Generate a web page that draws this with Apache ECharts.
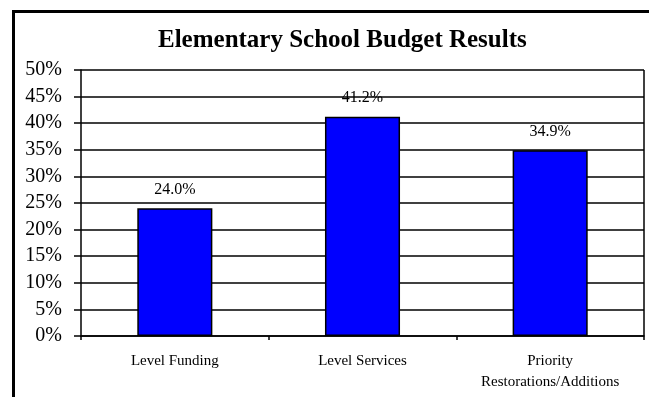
<!DOCTYPE html>
<html>
<head>
<meta charset="utf-8">
<script src="https://cdn.jsdelivr.net/npm/echarts@6/dist/echarts.min.js"></script>
<style>
  html, body { margin: 0; padding: 0; background: #fff; }
  #chart { width: 649px; height: 397px; }
</style>
</head>
<body>
<div id="chart"></div>
<script>
// Budget option results, share of votes (%)
const categories = ['Level Funding', 'Level Services', 'Priority\nRestorations/Additions'];
const shares = [24.0, 41.2, 34.9];
const yTicks = { min: 0, max: 50, step: 5 };

const serif = '"Liberation Serif", "Times New Roman", serif';
const chart = echarts.init(document.getElementById('chart'));

chart.setOption({
  animation: false,
  backgroundColor: '#fff',
  graphic: [{
    type: 'rect',
    shape: { x: 13.5, y: 11.5, width: 700, height: 500 },
    style: { fill: 'none', stroke: '#000', lineWidth: 3 },
    silent: true
  }],
  title: {
    text: 'Elementary School Budget Results',
    left: 153,
    top: 23,
    textStyle: {
      fontFamily: serif,
      fontWeight: 'bold',
      fontSize: 25,
      color: '#000'
    }
  },
  grid: { left: 81, right: 5, top: 70, bottom: 61 },
  xAxis: {
    type: 'category',
    data: categories,
    axisLine: { lineStyle: { color: '#000', width: 1.5 } },
    axisTick: { show: true, alignWithLabel: false, length: 4, lineStyle: { color: '#000', width: 1.5 } },
    axisLabel: {
      fontFamily: serif,
      fontSize: 15,
      color: '#000',
      margin: 15,
      lineHeight: 21,
      interval: 0
    }
  },
  yAxis: {
    type: 'value',
    min: yTicks.min,
    max: yTicks.max,
    interval: yTicks.step,
    axisLine: { show: true, lineStyle: { color: '#000', width: 1.5 } },
    axisTick: { show: true, length: 7, lineStyle: { color: '#000', width: 1.5 } },
    splitLine: { show: true, lineStyle: { color: '#000', width: 1.5 } },
    axisLabel: {
      fontFamily: serif,
      fontSize: 20,
      color: '#000',
      margin: 19,
      formatter: v => v + '%'
    }
  },
  series: [{
    type: 'bar',
    data: shares,
    barWidth: '40%',
    itemStyle: { color: '#0000FF', borderColor: '#000', borderWidth: 1.5 },
    label: {
      show: true,
      position: 'top',
      distance: 11,
      fontFamily: serif,
      fontSize: 16,
      color: '#000',
      formatter: p => p.value.toFixed(1) + '%'
    }
  }, {
    // right edge of the plot frame
    type: 'line',
    data: [],
    markLine: {
      silent: true,
      symbol: 'none',
      label: { show: false },
      lineStyle: { color: '#000', width: 1.5, type: 'solid' },
      data: [[{ x: 644, y: 70 }, { x: 644, y: 336 }]]
    }
  }]
});
</script>
</body>
</html>
